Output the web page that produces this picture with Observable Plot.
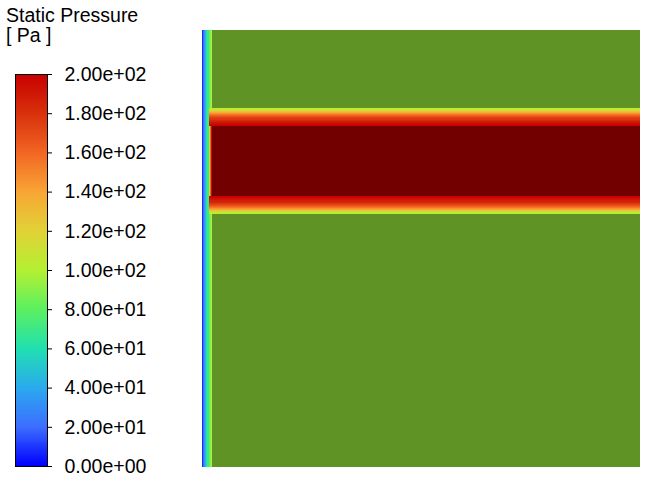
<!DOCTYPE html>
<html>
<head>
<meta charset="utf-8">
<script src="https://cdn.jsdelivr.net/npm/d3@7"></script>
<script src="https://cdn.jsdelivr.net/npm/@observablehq/plot@0.6"></script>
<style>
  html, body { margin: 0; padding: 0; background: #fff; }
  #wrap { position: relative; width: 649px; height: 483px; overflow: hidden; font-family: "Liberation Sans", Arial, sans-serif; }
  #wrap > svg { position: absolute; left: 0; top: 0; }
  .ttl { position: absolute; left: 6px; font-size: 19.5px; line-height: 20px; color: #000; white-space: pre; }
</style>
</head>
<body>
<div id="wrap">
  <div class="ttl" id="t1" style="top:4.6px"></div>
  <div class="ttl" id="t2" style="top:24.6px"></div>
</div>
<script>
// ---- Legend (colour map) ----
const legendTitle = "Static Pressure";
const legendUnit = "[ Pa ]";
const tickValues = [0, 20, 40, 60, 80, 100, 120, 140, 160, 180, 200];
const tickLabels = ["0.00e+00", "2.00e+01", "4.00e+01", "6.00e+01", "8.00e+01", "1.00e+02",
                    "1.20e+02", "1.40e+02", "1.60e+02", "1.80e+02", "2.00e+02"];
const stopColors = ["#0000ff", "#3c6eff", "#2aaaee", "#20e0b0", "#5cf060", "#b4f032",
                    "#e1d236", "#f8a535", "#f26522", "#d8300c", "#c80000"];

// ---- Field (domain in mm, 100 x 100) ----
const bodyPressure = 95;          // surrounding fluid
const corePressure = 200;         // high-pressure jet core
const coreY = [62, 78];           // core lower / upper edge (mm)
const stripStart = 2.25;          // end of the inlet strip (mm)
const bandStart = 1.5;            // left end of the jet (mm)
// inlet strip on the left: column left edge (mm) and pressure
const stripX = [0, 0.25, 0.5, 0.75, 1.0, 1.25, 1.5, 1.75, 2.0];
const stripP = [8, 20, 32, 45, 58, 70, 80, 90, 100];
// left end of the jet core: column left edge (mm) and pressure
const capX = [1.5, 1.75, 2.0];
const capP = [108, 160, 195];
// jet shear layers: row lower edge (mm) and pressure
const bandRowY = [82.0, 81.75, 81.5, 81.25, 81.0, 80.75, 80.5, 80.25, 80.0, 79.75, 79.5, 79.25, 79.0, 78.75, 78.5, 78.25, 78.0,
                  61.75, 61.5, 61.25, 61.0, 60.75, 60.5, 60.25, 60.0, 59.75, 59.5, 59.25, 59.0, 58.75, 58.5, 58.25, 58.0];
const bandRowP = [100, 108, 118, 128, 138, 146, 154, 161, 167, 173, 178, 183, 187, 191, 194, 197, 199,
                  199, 197, 194, 191, 187, 183, 178, 173, 167, 161, 154, 146, 138, 128, 118, 100];

document.getElementById("t1").textContent = legendTitle;
document.getElementById("t2").textContent = legendUnit;

const colorScale = {type: "linear", domain: tickValues, range: stopColors, interpolate: "rgb"};
const step = 0.25;
const strip = stripX.map((x, i) => ({x, p: stripP[i]}));
const cap = capX.map((x, i) => ({x, p: capP[i]}));
const rows = bandRowY.map((y, i) => ({y, p: bandRowP[i]}));
const body = [{x1: 0, x2: 100, y1: 0, y2: 100, p: bodyPressure}];
const core = [{x1: stripStart, x2: 100, y1: coreY[0], y2: coreY[1], p: corePressure}];

const field = Plot.plot({
  width: 649, height: 483,
  marginLeft: 202, marginRight: 9, marginTop: 30, marginBottom: 16,
  x: {domain: [0, 100], axis: null},
  y: {domain: [0, 100], axis: null},
  color: colorScale,
  style: {background: "transparent"},
  marks: [
    Plot.rect(body, {x1: "x1", x2: "x2", y1: "y1", y2: "y2", fill: "p", shapeRendering: "crispEdges"}),
    Plot.rect(body, {x1: "x1", x2: "x2", y1: "y1", y2: "y2", fill: "black", fillOpacity: 0.39, shapeRendering: "crispEdges"}),
    Plot.rect(strip, {x1: "x", x2: d => d.x + step, y1: 0, y2: 100, fill: "p", shapeRendering: "crispEdges"}),
    Plot.rect(core, {x1: "x1", x2: "x2", y1: "y1", y2: "y2", fill: "p", shapeRendering: "crispEdges"}),
    Plot.rect(core, {x1: "x1", x2: "x2", y1: "y1", y2: "y2", fill: "black", fillOpacity: 0.43, shapeRendering: "crispEdges"}),
    Plot.rect(rows, {x1: bandStart, x2: 100, y1: "y", y2: d => d.y + step, fill: "p", shapeRendering: "crispEdges"}),
    Plot.rect(cap, {x1: "x", x2: d => d.x + step, y1: coreY[0], y2: coreY[1], fill: "p", shapeRendering: "crispEdges"})
  ]
});
document.getElementById("wrap").appendChild(field);

// ---- Colour bar ----
const ramp = d3.range(0, 200, 0.5);
const legend = Plot.plot({
  width: 200, height: 483,
  marginLeft: 15, marginRight: 153, marginTop: 74, marginBottom: 17,
  x: {domain: [0, 1], axis: null},
  y: {domain: [0, 200]},
  color: colorScale,
  style: {background: "transparent", fontFamily: "Liberation Sans, Arial, sans-serif", overflow: "visible"},
  marks: [
    Plot.rect(ramp, {x1: 0, x2: 1, y1: d => d, y2: d => d + 0.6, fill: d => d + 0.25, shapeRendering: "crispEdges"}),
    Plot.frame({stroke: "#000", strokeWidth: 1}),
    Plot.axisY(tickValues, {anchor: "right", tickSize: 4, tickPadding: 13, fontSize: 19.5, fill: "#000", stroke: "#000",
      tickFormat: d => tickLabels[tickValues.indexOf(d)], label: null})
  ]
});
document.getElementById("wrap").appendChild(legend);
</script>
</body>
</html>
